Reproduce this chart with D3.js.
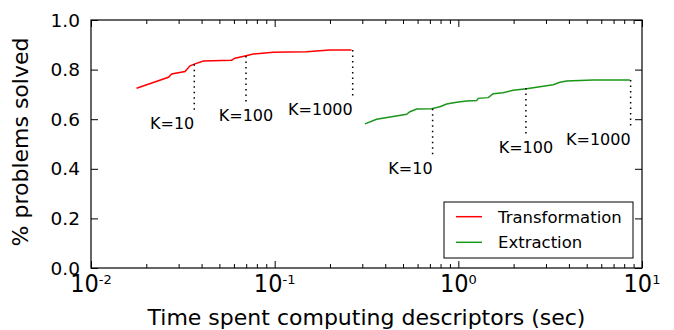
<!DOCTYPE html>
<html>
<head>
<meta charset="utf-8">
<script src="https://cdn.jsdelivr.net/npm/d3@7"></script>
<style>
    body { margin: 0; background: #fff; }
    text { font-family: "DejaVu Sans", sans-serif; fill: #000; }
</style>
</head>
<body>
<div id="chart"></div>
<script>
// curves: time (sec) vs fraction solved
let transTime = [0.0177, 0.0264, 0.0275, 0.0325, 0.0346, 0.0368, 0.0409, 0.0583, 0.0608, 0.0689, 0.0765, 0.0983, 0.149, 0.200, 0.262];
let transSolved = [0.725, 0.769, 0.782, 0.792, 0.815, 0.823, 0.835, 0.838, 0.846, 0.855, 0.863, 0.870, 0.872, 0.879, 0.879];
let extrTime = [0.310, 0.359, 0.523, 0.545, 0.593, 0.715, 0.794, 0.864, 0.979, 1.110, 1.258, 1.284, 1.455, 1.549, 1.755, 1.990, 2.354, 2.781, 3.286, 3.574, 3.887, 5.425, 8.60];
let extrSolved = [0.581, 0.600, 0.620, 0.630, 0.641, 0.642, 0.650, 0.661, 0.668, 0.673, 0.675, 0.684, 0.687, 0.703, 0.707, 0.717, 0.723, 0.731, 0.739, 0.749, 0.754, 0.758, 0.758];

let seriesNames = ["Transformation", "Extraction"];
let seriesColors = ["#ff0000", "#1a961a"];

// K markers on each curve
let kLabels = ["K=10", "K=100", "K=1000"];
let transKTime = [0.0365, 0.0698, 0.266];
let transKSolved = [0.822, 0.855, 0.879];
let extrKTime = [0.7245, 2.333, 8.67];
let extrKSolved = [0.642, 0.726, 0.758];

let yTicks = [0, 0.2, 0.4, 0.6, 0.8, 1.0];
let xTicks = [0.01, 0.1, 1, 10];
let xTickExp = ["-2", "-1", "0", "1"];

let width = 674;
let height = 330;
let mLeft = 91, mRight = 642, mTop = 20, mBottom = 268;
let drop = 0.19;
let kAnchor = ["end", "middle", "end"];

let x = d3.scaleLog().domain([0.01, 10]).range([mLeft, mRight]);
let y = d3.scaleLinear().domain([0, 1]).range([mBottom, mTop]);

let svg = d3.select("#chart")
    .append("svg")
    .attr("width", width)
    .attr("height", height);

// minor ticks for the log axis
let minorTicks = [];
[0.01, 0.1, 1].forEach(function(d) {
    for (let k = 2; k <= 9; k++) minorTicks.push(d * k);
});

function styleAxis(g) {
    g.select(".domain").remove();
    g.selectAll("line").attr("stroke", "#000").attr("stroke-width", 1);
}

svg.append("g").attr("transform", "translate(0," + mBottom + ")")
    .call(d3.axisBottom(x).tickValues(xTicks).tickSizeInner(-7).tickSizeOuter(0).tickFormat(""))
    .call(styleAxis);
svg.append("g").attr("transform", "translate(0," + mBottom + ")")
    .call(d3.axisBottom(x).tickValues(minorTicks).tickSizeInner(-4).tickSizeOuter(0).tickFormat(""))
    .call(styleAxis);
svg.append("g").attr("transform", "translate(0," + mTop + ")")
    .call(d3.axisTop(x).tickValues(xTicks).tickSizeInner(-7).tickSizeOuter(0).tickFormat(""))
    .call(styleAxis);
svg.append("g").attr("transform", "translate(0," + mTop + ")")
    .call(d3.axisTop(x).tickValues(minorTicks).tickSizeInner(-4).tickSizeOuter(0).tickFormat(""))
    .call(styleAxis);
svg.append("g").attr("transform", "translate(" + mLeft + ",0)")
    .call(d3.axisLeft(y).tickValues(yTicks).tickSizeInner(-7).tickSizeOuter(0).tickFormat(""))
    .call(styleAxis);
svg.append("g").attr("transform", "translate(" + mRight + ",0)")
    .call(d3.axisRight(y).tickValues(yTicks).tickSizeInner(-7).tickSizeOuter(0).tickFormat(""))
    .call(styleAxis);

// y tick labels
svg.selectAll(".ylab")
    .data(yTicks)
    .enter().append("text")
    .attr("class", "ylab")
    .attr("x", mLeft - 11)
    .attr("y", d => y(d) + 6.5)
    .attr("text-anchor", "end")
    .style("font-size", "18.5px")
    .text(d => d3.format(".1f")(d));

// x tick labels as 10^n
let xlab = svg.selectAll(".xlab")
    .data(xTicks)
    .enter().append("text")
    .attr("class", "xlab")
    .attr("x", d => x(d))
    .attr("y", 292)
    .attr("text-anchor", "middle");
xlab.append("tspan")
    .style("font-family", "'Liberation Sans Narrow', 'DejaVu Sans Condensed', sans-serif")
    .style("font-size", "25px")
    .text("10");
xlab.append("tspan")
    .attr("dy", -8.5)
    .style("font-size", "13px")
    .text((d, i) => xTickExp[i]);

// curves
let line = d3.line()
    .x(d => x(d[0]))
    .y(d => y(d[1]));

let curves = [d3.zip(transTime, transSolved), d3.zip(extrTime, extrSolved)];
svg.selectAll(".curve")
    .data(curves)
    .enter().append("path")
    .attr("class", "curve")
    .attr("d", line)
    .attr("fill", "none")
    .attr("stroke", (d, i) => seriesColors[i])
    .attr("stroke-width", 1.5);

// K annotations
let marks = [d3.zip(transKTime, transKSolved), d3.zip(extrKTime, extrKSolved)];
marks.forEach(function(m) {
    let g = svg.append("g");
    g.selectAll("line")
        .data(m)
        .enter().append("line")
        .attr("x1", d => x(d[0]))
        .attr("x2", d => x(d[0]))
        .attr("y1", d => y(d[1]))
        .attr("y2", d => y(d[1] - drop))
        .attr("stroke", "#000")
        .attr("stroke-width", 1.5)
        .attr("stroke-dasharray", "1.5,4");
    g.selectAll("text")
        .data(m)
        .enter().append("text")
        .attr("x", d => x(d[0]))
        .attr("y", d => y(d[1] - drop) + 18)
        .attr("text-anchor", (d, i) => kAnchor[i])
        .style("font-size", "16px")
        .text((d, i) => kLabels[i]);
});

// frame
svg.append("rect")
    .attr("x", mLeft)
    .attr("y", mTop)
    .attr("width", mRight - mLeft)
    .attr("height", mBottom - mTop)
    .attr("fill", "none")
    .attr("stroke", "#000")
    .attr("stroke-width", 1.2);

// legend
let legend = svg.append("g");
legend.append("rect")
    .attr("x", 444)
    .attr("y", 202)
    .attr("width", 189)
    .attr("height", 56)
    .attr("fill", "#fff")
    .attr("stroke", "#000")
    .attr("stroke-width", 1);
let legendG = legend.selectAll(".legend")
    .data(seriesNames)
    .enter().append("g")
    .attr("transform", (d, i) => "translate(456," + (216.7 + i * 25.6) + ")");
legendG.append("line")
    .attr("x1", 0).attr("x2", 26)
    .attr("stroke", (d, i) => seriesColors[i])
    .attr("stroke-width", 1.5);
legendG.append("text")
    .attr("x", 42)
    .attr("y", 6)
    .style("font-size", "16.5px")
    .text(d => d);

// axis titles
svg.append("text")
    .attr("x", (mLeft + mRight) / 2)
    .attr("y", 325)
    .attr("text-anchor", "middle")
    .style("font-size", "22px")
    .text("Time spent computing descriptors (sec)");

svg.append("text")
    .attr("transform", "translate(28,142) rotate(-90)")
    .attr("text-anchor", "middle")
    .style("font-size", "22px")
    .text("% problems solved");
</script>
</body>
</html>
